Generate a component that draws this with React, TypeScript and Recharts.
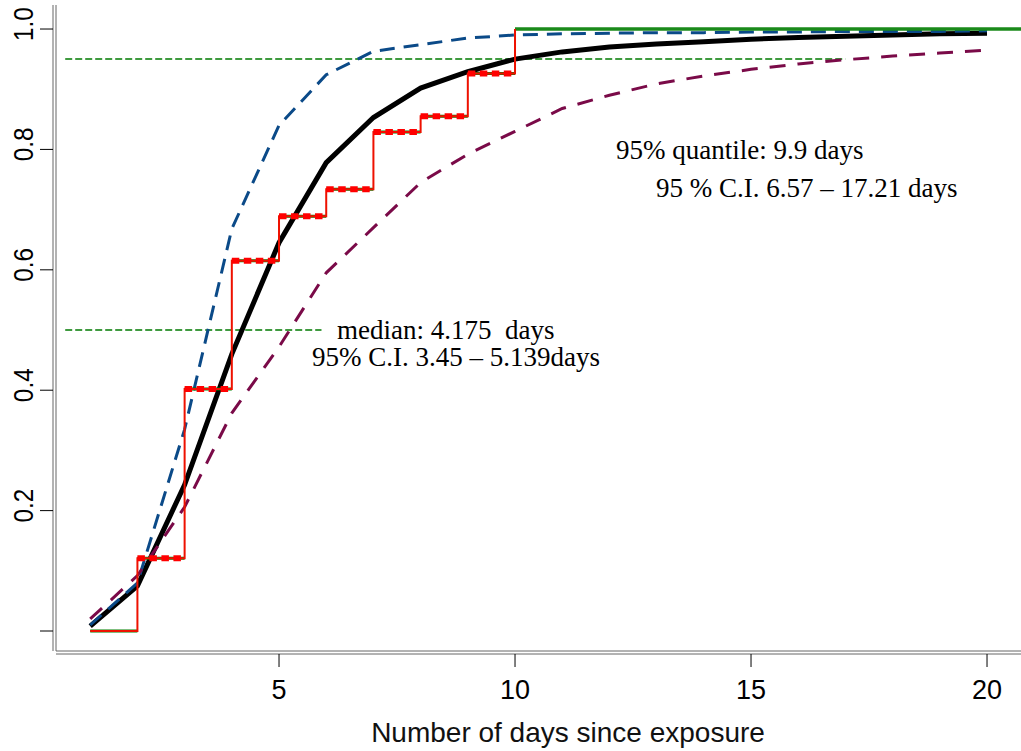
import { LineChart, Line, XAxis, YAxis, ReferenceLine } from "recharts";

// days since exposure
const days = [1, 2, 3, 4, 5, 6, 7, 8, 9, 10, 11, 12, 13, 14, 15, 16, 17, 18, 19, 20];
// fitted cumulative distribution
const fitted = [0.008, 0.075, 0.243, 0.46, 0.645, 0.778, 0.853, 0.902, 0.929, 0.95, 0.962, 0.97, 0.975, 0.979, 0.983, 0.986, 0.988, 0.99, 0.992, 0.993];
// upper / lower 95% bands
const upper = [0.01, 0.08, 0.335, 0.668, 0.84, 0.924, 0.963, 0.974, 0.985, 0.99, 0.992, 0.993, 0.994, 0.994, 0.995, 0.995, 0.996, 0.996, 0.996, 0.997];
const lower = [0.02, 0.092, 0.206, 0.362, 0.472, 0.595, 0.67, 0.745, 0.792, 0.83, 0.868, 0.89, 0.909, 0.922, 0.933, 0.942, 0.949, 0.955, 0.96, 0.965];

// empirical step function
const stepX = [1, 2, 3, 4, 5, 6, 7, 8, 9, 10];
const stepY = [0, 0.121, 0.402, 0.615, 0.689, 0.734, 0.829, 0.855, 0.926, 1.0];

// dashed guide lines (median, 95% quantile)
const guideLevels = [0.5, 0.95];
const guideEnds = [5.9, 17.0];
const guideStart = 0.47;

const xTicks = [5, 10, 15, 20];
const yTicks = [0, 0.2, 0.4, 0.6, 0.8, 1.0];

const xMin = 0.275;
const xMax = 20.72;
const yMin = -0.0332;
const yMax = 1.0399;

const fittedPts = days.map((d, i) => ({ x: d, y: fitted[i] }));
const upperPts = days.map((d, i) => ({ x: d, y: upper[i] }));
const lowerPts = days.map((d, i) => ({ x: d, y: lower[i] }));
const stepPts = stepX.map((d, i) => ({ x: d, y: stepY[i] }));

const segs: { x: number; y: number | null }[] = [];
const dashSegs: { x: number; y: number | null }[] = [];
for (let i = 0; i < stepX.length - 1; i++) {
  const part = [
    { x: stepX[i], y: stepY[i] },
    { x: stepX[i + 1], y: stepY[i] },
    { x: stepX[i + 1], y: null },
  ];
  segs.push(...part);
  if (stepY[i] > 0) dashSegs.push(...part);
}
const lastPts = [
  { x: stepX[stepX.length - 1], y: stepY[stepY.length - 1] },
  { x: xMax, y: stepY[stepY.length - 1] },
];

const serif = "'Liberation Serif', 'Times New Roman', serif";
const sans = "'Liberation Sans', Arial, sans-serif";

const YTick = (props: any) => {
  const { y, payload } = props;
  if (payload.value === 0) return null;
  return (
    <text
      transform={`translate(33,${y - 5}) rotate(-90) scale(0.87,1)`}
      textAnchor="middle"
      fontFamily={sans}
      fontSize={28}
      fill="#000"
    >
      {payload.value.toFixed(1)}
    </text>
  );
};

const XTick = (props: any) => {
  const { x, payload } = props;
  return (
    <text x={x} y={699} textAnchor="middle" fontFamily={sans} fontSize={27} fill="#000">
      {payload.value}
    </text>
  );
};

export default function App() {
  return (
    <div style={{ position: "absolute", left: 0, top: 0, background: "#fff" }}>
      <LineChart width={1021} height={751} margin={{ top: 5, right: 0, bottom: 0, left: 0 }}>
        <XAxis
          type="number"
          dataKey="x"
          domain={[xMin, xMax]}
          allowDataOverflow
          height={3}
          tick={false}
          tickLine={false}
          axisLine={{ stroke: "#666" }}
        />
        <XAxis
          xAxisId="ticks"
          type="number"
          dataKey="x"
          domain={[xMin, xMax]}
          allowDataOverflow
          ticks={xTicks}
          interval={0}
          height={97}
          tickSize={13}
          tickLine={{ stroke: "#000" }}
          axisLine={{ stroke: "#666" }}
          tick={<XTick />}
        />
        <YAxis
          type="number"
          domain={[yMin, yMax]}
          allowDataOverflow
          width={3}
          tick={false}
          tickLine={false}
          axisLine={{ stroke: "#666" }}
        />
        <YAxis
          yAxisId="ticks"
          type="number"
          domain={[yMin, yMax]}
          allowDataOverflow
          ticks={yTicks}
          interval={0}
          width={53}
          tickSize={13}
          tickLine={{ stroke: "#000" }}
          axisLine={{ stroke: "#666" }}
          tick={<YTick />}
        />

        {/* invisible carrier so the tick axes own a series */}
        <Line data={fittedPts} dataKey="y" xAxisId="ticks" yAxisId="ticks" stroke="none" dot={false} isAnimationActive={false} />

        {guideLevels.map((lv, i) => (
          <ReferenceLine
            key={lv}
            segment={[
              { x: guideStart, y: lv },
              { x: guideEnds[i], y: lv },
            ]}
            stroke="#007a00"
            strokeWidth={1.5}
            strokeDasharray="7 3"
          />
        ))}

        <Line data={fittedPts} dataKey="y" stroke="#000" strokeWidth={5} dot={false} isAnimationActive={false} />
        <Line data={upperPts} dataKey="y" stroke="#0b4a88" strokeWidth={3} strokeDasharray="15 9" dot={false} isAnimationActive={false} />
        <Line data={lowerPts} dataKey="y" stroke="#7a0a48" strokeWidth={3} strokeDasharray="16 12" dot={false} isAnimationActive={false} />

        <Line data={segs} dataKey="y" stroke="#008000" strokeWidth={3} dot={false} connectNulls={false} isAnimationActive={false} />
        <Line data={lastPts} dataKey="y" stroke="#1a8a1a" strokeWidth={3.5} dot={false} isAnimationActive={false} />
        <Line data={stepPts} dataKey="y" type="stepAfter" stroke="#ee1100" strokeWidth={2} dot={false} isAnimationActive={false} />
        <Line data={dashSegs} dataKey="y" stroke="#ff0000" strokeWidth={6} strokeDasharray="7.5 4.5" dot={false} connectNulls={false} isAnimationActive={false} />

        <text x={616} y={159} fontFamily={serif} fontSize={27} fill="#000" style={{ whiteSpace: "pre" }}>
          95% quantile: 9.9 days
        </text>
        <text x={656} y={197} fontFamily={serif} fontSize={27} fill="#000" style={{ whiteSpace: "pre" }}>
          95 % C.I. 6.57 – 17.21 days
        </text>
        <text x={337} y={339} fontFamily={serif} fontSize={27} fill="#000" style={{ whiteSpace: "pre" }}>
          {"median: 4.175  days"}
        </text>
        <text x={312} y={366} fontFamily={serif} fontSize={27} fill="#000" style={{ whiteSpace: "pre" }}>
          95% C.I. 3.45 – 5.139days
        </text>
        <text x={568} y={742} textAnchor="middle" fontFamily={sans} fontSize={28} fill="#111">
          Number of days since exposure
        </text>
      </LineChart>
    </div>
  );
}
